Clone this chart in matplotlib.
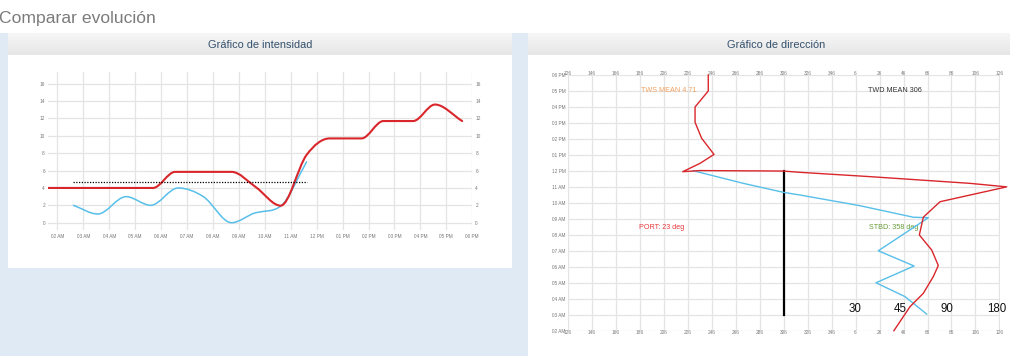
import numpy as np
import matplotlib
matplotlib.use("Agg")
import matplotlib.pyplot as plt
from matplotlib.path import Path
from matplotlib.patches import PathPatch, Rectangle

plt.rcParams['font.family'] = ['Liberation Sans', 'DejaVu Sans']

# ---------------- data ----------------
page_title = "Comparar evolución"
left_title = "Gráfico de intensidad"
right_title = "Gráfico de dirección"

hour_ticks = list(range(2, 19))
hour_labels = ["02 AM", "03 AM", "04 AM", "05 AM", "06 AM", "07 AM", "08 AM", "09 AM",
               "10 AM", "11 AM", "12 PM", "01 PM", "02 PM", "03 PM", "04 PM", "05 PM", "06 PM"]
intensity_ticks = [0, 2, 4, 6, 8, 10, 12, 14, 16]

# wind speed (red) and second series (blue), time in hours
tws_time = [1.64, 2.62, 3.62, 4.62, 5.69, 6.54, 7.62, 8.72, 9.65, 10.61, 11.61,
            12.5, 13.73, 14.57, 15.72, 16.56, 17.61]
tws_value = [4.0, 4.0, 4.0, 4.0, 4.0, 5.85, 5.85, 5.85, 4.1, 1.96, 7.8,
             9.7, 9.7, 11.7, 11.7, 13.6, 11.7]
boat_time = [2.62, 3.56, 4.65, 5.6, 6.66, 7.63, 8.72, 9.65, 10.61, 11.61]
boat_value = [2.0, 1.0, 3.0, 2.0, 4.0, 3.0, 0.0, 1.15, 1.9, 7.0]
tws_mean = 4.71
mean_time = [2.62, 11.61]

# direction chart
twd_mean = 306
dir_ticks = [126 + 20 * k for k in range(19)]
dir_labels = [str(d % 360) for d in dir_ticks]

twd_time = [18.0, 17.0, 16.0, 15.04, 14.04, 13.03, 12.47, 11.95, 12.02, 11.99, 11.91,
            11.64, 11.22, 11.0, 10.07, 9.1, 7.99, 7.05, 6.08, 5.38, 4.34, 3.5, 2.0]
twd_deg = [243.3, 243.3, 232.3, 232.3, 237.8, 248.1, 236.4, 222.0, 236.4, 305.6, 319.8,
           378.1, 461.4, 492.0, 436.4, 422.5, 419.2, 429.5, 435.0, 430.8, 422.5, 411.4, 398.0]
hdg_time = [12.01, 11.22, 10.66, 10.49, 9.82, 9.1, 9.07, 7.0, 6.05, 5.0, 4.13, 3.04]
hdg_deg = [230.8, 272.5, 305.8, 319.8, 369.8, 414.2, 426.7, 385.0, 414.8, 383.1, 407.3, 425.3]
ref_time = [3.0, 12.0]

tws_text = "TWS MEAN 4.71"
twd_text = "TWD MEAN 306"
port_text = "PORT: 23 deg"
stbd_text = "STBD: 358 deg"
angle_marks = ["30", "45", "90", "180"]

# ---------------- style ----------------
RED = "#d9262b"
BLUE = "#57bfe9"
GRID = "#e4e4e4"
TICK = "#777777"
PANEL_BG = "#dfeaf4"
HEAD_TXT = "#34506c"

W, H = 1024, 356
fig = plt.figure(figsize=(W / 100, H / 100), dpi=100)
fig.patch.set_facecolor("white")

bg = fig.add_axes([0, 0, 1, 1], zorder=-10)
bg.set_xlim(0, W)
bg.set_ylim(H, 0)
bg.axis("off")
bg.add_patch(Rectangle((0, 33), 528, H - 33, color=PANEL_BG, lw=0))
bg.add_patch(Rectangle((8, 55), 504, 213, color="white", lw=0))
bg.add_patch(Rectangle((528, 55), W - 528, H - 55, color="white", lw=0))
grad = np.linspace(0, 1, 50).reshape(-1, 1)
from matplotlib.colors import LinearSegmentedColormap
hcmap = LinearSegmentedColormap.from_list("h", ["#f6f6f6", "#e6e6e6"])
bg.imshow(grad, cmap=hcmap, extent=(8, 512, 55, 33), aspect="auto", zorder=1)
bg.imshow(grad, cmap=hcmap, extent=(528, 1010, 55, 33), aspect="auto", zorder=1)
bg.set_xlim(0, W)
bg.set_ylim(H, 0)
bg.text(-1, 22.7, page_title, fontsize=12.6, color="#7b7b7b", va="baseline", ha="left")
bg.text(260, 44.5, left_title, fontsize=7.9, color=HEAD_TXT, va="center", ha="center", zorder=3)
bg.text(776, 44.5, right_title, fontsize=7.9, color=HEAD_TXT, va="center", ha="center", zorder=3)


def px_axes(l, t, r, b):
    return fig.add_axes([l / W, 1 - b / H, (r - l) / W, (b - t) / H])


def monotone_path(x, y):
    x = np.asarray(x, float)
    y = np.asarray(y, float)
    n = len(x)
    dx = np.diff(x)
    d = np.diff(y) / dx
    m = np.zeros(n)
    m[0], m[-1] = d[0], d[-1]
    for i in range(1, n - 1):
        m[i] = 0.0 if d[i - 1] * d[i] <= 0 else (d[i - 1] + d[i]) / 2
    for i in range(n - 1):
        if abs(d[i]) < 1e-12:
            m[i] = m[i + 1] = 0.0
            continue
        a, b = m[i] / d[i], m[i + 1] / d[i]
        s = a * a + b * b
        if s > 9:
            t = 3 / np.sqrt(s)
            m[i], m[i + 1] = t * a * d[i], t * b * d[i]
    verts = [(x[0], y[0])]
    codes = [Path.MOVETO]
    for i in range(n - 1):
        h = dx[i] / 3
        verts += [(x[i] + h, y[i] + m[i] * h), (x[i + 1] - h, y[i + 1] - m[i + 1] * h),
                  (x[i + 1], y[i + 1])]
        codes += [Path.CURVE4] * 3
    return Path(verts, codes)


# ---------------- left chart ----------------
axL = px_axes(48, 72.3, 472.3, 230)
axL.set_facecolor("none")
axL.set_xlim(1.64, 18.0)
axL.set_ylim(-0.84, 17.31)
axL.set_xticks(hour_ticks)
axL.set_xticklabels(hour_labels)
axL.set_yticks(intensity_ticks)
axL.tick_params(axis="both", length=0, labelsize=3.4, colors=TICK)
axL.tick_params(axis="y", pad=2.2, labelright=True)
axL.tick_params(axis="x", pad=2.6)
for lab in axL.get_yticklabels(which="both"):
    pass
axL.yaxis.set_tick_params(which="major", right=False)
axL.grid(True, color=GRID, lw=0.9)
axL.set_axisbelow(True)
for s in axL.spines.values():
    s.set_visible(False)
# right-side labels further out
for t in axL.yaxis.get_major_ticks():
    t.label2.set_horizontalalignment("left")
axL.tick_params(axis="y", which="major", pad=2.2)

axL.add_patch(PathPatch(monotone_path(tws_time, tws_value), fc="none", ec=RED, lw=1.5,
                        capstyle="round", joinstyle="round", zorder=4))
axL.add_patch(PathPatch(monotone_path(boat_time, boat_value), fc="none", ec=BLUE, lw=1.1,
                        capstyle="round", joinstyle="round", zorder=3))
axL.plot(mean_time, [tws_mean, tws_mean], color="black", lw=0.9, ls=(0, (1, 1.2)), zorder=5)

# ---------------- right chart ----------------
axR = px_axes(567.5, 75, 999.5, 330.7)
axR.set_facecolor("none")
axR.set_xlim(twd_mean - 180, twd_mean + 180)
axR.set_ylim(2, 18)
axR.set_xticks(dir_ticks)
axR.set_xticklabels(dir_labels)
axR.set_yticks(hour_ticks)
axR.set_yticklabels(hour_labels)
axR.tick_params(axis="both", length=0, labelsize=3.4, colors=TICK)
axR.tick_params(axis="x", top=True, labeltop=True, bottom=True, labelbottom=True)
axR.tick_params(axis="x", which="major", pad=-0.8)
for t in axR.xaxis.get_major_ticks():
    t.label2.set_y(1.0)
axR.xaxis.set_tick_params(which="major", pad=-0.8)
axR.tick_params(axis="y", pad=1.3)
axR.grid(True, color=GRID, lw=0.9)
axR.set_axisbelow(True)
for s in axR.spines.values():
    s.set_visible(False)

axR.plot([twd_mean, twd_mean], ref_time, color="black", lw=1.6, zorder=3)
axR.plot(twd_deg, twd_time, color=RED, lw=1.0, clip_on=False, zorder=5, solid_joinstyle="round")
axR.plot(hdg_deg, hdg_time, color=BLUE, lw=1.0, clip_on=False, zorder=4, solid_joinstyle="round")

axR.text(210.3, 17.06, tws_text, fontsize=5.2, color="#f2a15e", ha="center", va="center")
axR.text(399.2, 17.06, twd_text, fontsize=5.2, color="#333333", ha="center", va="center")
axR.text(204.8, 8.45, port_text, fontsize=5.2, color="#e8383d", ha="center", va="center")
axR.text(398.1, 8.45, stbd_text, fontsize=5.2, color="#6a9d3a", ha="center", va="center")
for lab, xd in zip(angle_marks, [365.6, 403.7, 442.0, 483.8]):
    axR.text(xd, 3.34, lab, fontsize=8.3, color="#111111", ha="center", va="center")

fig.savefig("out.png", dpi=100, facecolor="white")
